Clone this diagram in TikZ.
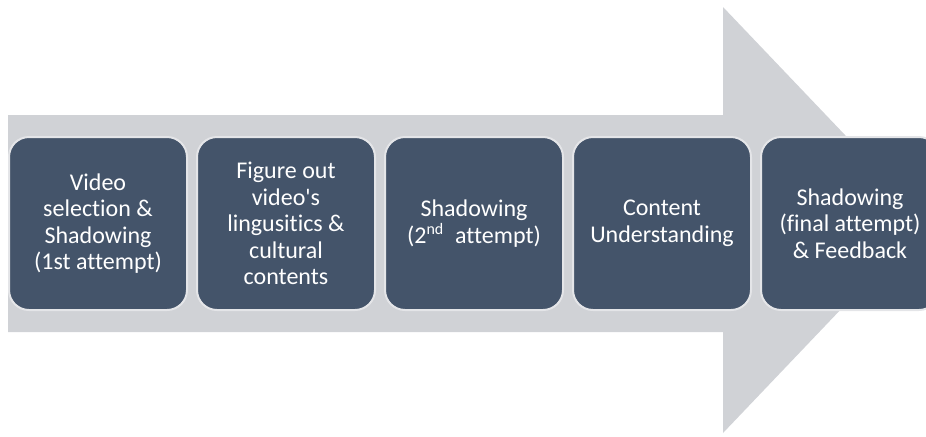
\documentclass[tikz,border=0pt]{standalone}
\usepackage{fontspec}
\setmainfont{Carlito}[Ligatures={NoCommon}]
\usetikzlibrary{positioning}

\definecolor{arrowgray}{HTML}{D0D2D6}
\definecolor{stepblue}{HTML}{44546A}
\definecolor{stepedge}{HTML}{E4E5E8}

\tikzset{
  stagebox/.style={rectangle, rounded corners=10pt, fill=stepblue, draw=stepedge,
    line width=1pt, minimum width=89pt, minimum height=86.5pt,
    text=white, align=center, font=\fontsize{12}{13.3}\selectfont}
}

\begin{document}
\begin{tikzpicture}[x=0.5pt,y=0.5pt]
  \useasboundingbox (0,0) rectangle (926,436);
  \clip (0,0) rectangle (926,436);

  % Big arrow behind the stages
  \fill[arrowgray] (8,104) -- (723,104) -- (723,3) -- (926,216)
    -- (723,429) -- (723,321) -- (8,321) -- cycle;

  % Stages
  \node[stagebox] (select) at (98,212.5) {Video\\selection \&\\Shadowing\\(1st attempt)};
  \node[stagebox, right=4pt of select] (figure) {Figure out\\video\textquotesingle s\\lingusitics \&\\cultural\\contents};
  \node[stagebox, right=4pt of figure] (second) {Shadowing\\(2\textsuperscript{nd}\ \ attempt)};
  \node[stagebox, right=4pt of second] (content) {Content\\Understanding};
  \node[stagebox, right=4pt of content] (final) {Shadowing\\(final attempt)\\\& Feedback};
\end{tikzpicture}
\end{document}
